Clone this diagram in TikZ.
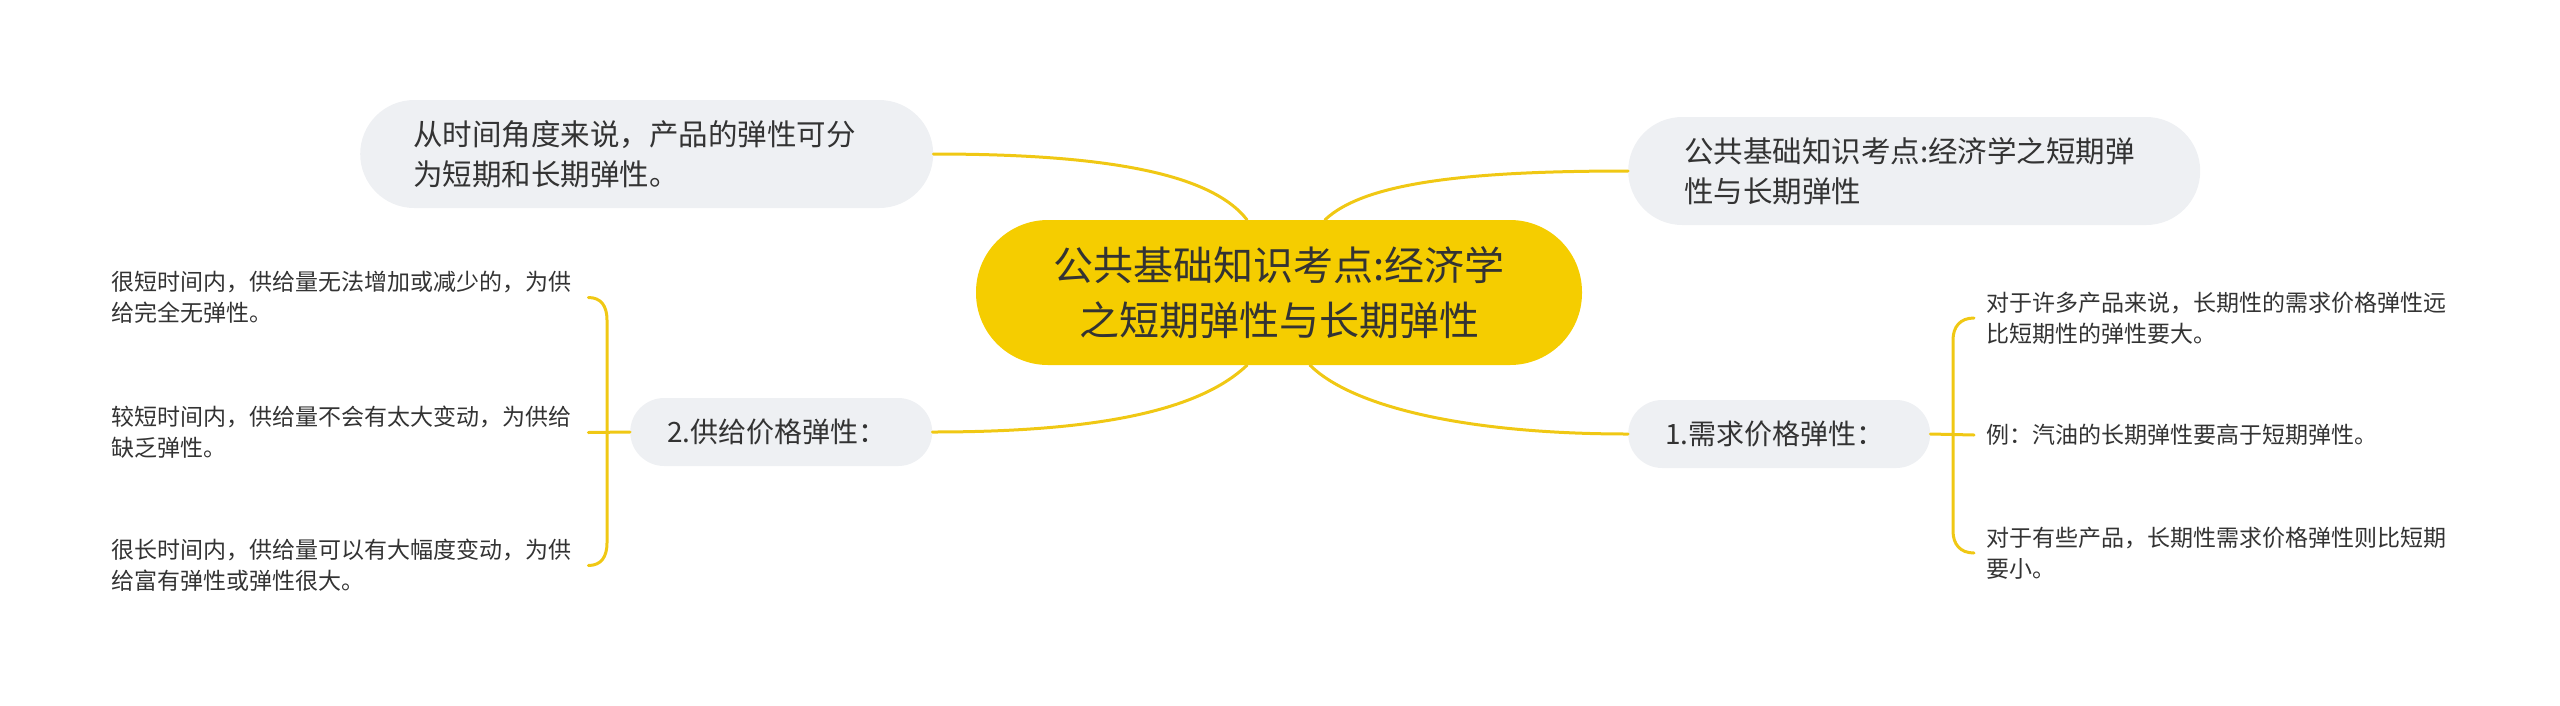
\documentclass[tikz,border=0pt]{standalone}
\usepackage{fontspec}
\setmainfont{Noto Sans CJK SC}
\definecolor{gold}{HTML}{F5CD00}
\definecolor{linegold}{HTML}{F0C814}
\definecolor{pill}{HTML}{EEF0F3}
\definecolor{txt}{HTML}{333333}
\begin{document}
\begin{tikzpicture}[x=1pt,y=-1pt,
  conn/.style={draw=linegold, line width=3pt, line cap=round},
  rootbox/.style={fill=gold, rounded corners=72pt, minimum width=606pt, minimum height=145pt,
    align=center, text=txt, inner sep=0pt, font=\fontsize{40}{55}\selectfont},
  bigpill/.style={fill=pill, rounded corners=54pt, minimum height=108pt, inner ysep=0pt,
    align=left, text=txt, anchor=west, font=\fontsize{29.5}{40}\selectfont},
  midpill/.style={fill=pill, rounded corners=34pt, minimum height=68pt, inner ysep=0pt,
    inner xsep=37pt, text width=228pt, align=left, text=txt, anchor=west,
    font=\fontsize{28}{36}\selectfont},
  leaf/.style={align=left, text=txt, anchor=west, inner ysep=0pt,
    font=\fontsize{23}{31}\selectfont}
]
\useasboundingbox (0,0) rectangle (2560,705);

\node[rootbox] (root) at (1279,292.5) {公共基础知识考点:经济学\\之短期弹性与长期弹性};

\node[bigpill, inner xsep=53pt, text width=467pt] (topL) at (360,154)
  {从时间角度来说，产品的弹性可分\\为短期和长期弹性。};
\node[bigpill, inner xsep=56pt, text width=460pt] (topR) at (1628,171)
  {公共基础知识考点:经济学之短期弹\\性与长期弹性};

\node[midpill] (s2) at (630,432) {2.供给价格弹性：};
\node[midpill] (s1) at (1628,434) {1.需求价格弹性：};

\node[leaf, inner xsep=0pt, text width=477pt] (L1) at (111,297.5)
  {很短时间内，供给量无法增加或减少的，为供\\给完全无弹性。};
\node[leaf, inner xsep=0pt, text width=477pt] (L2) at (111,432.5)
  {较短时间内，供给量不会有太大变动，为供给\\缺乏弹性。};
\node[leaf, inner xsep=0pt, text width=477pt] (L3) at (111,565.5)
  {很长时间内，供给量可以有大幅度变动，为供\\给富有弹性或弹性很大。};

\node[leaf, inner xsep=12pt, text width=470pt] (R1) at (1974,318)
  {对于许多产品来说，长期性的需求价格弹性远\\比短期性的弹性要大。};
\node[leaf, inner xsep=12pt, text width=470pt] (R2) at (1974,435)
  {例：汽油的长期弹性要高于短期弹性。};
\node[leaf, inner xsep=12pt, text width=470pt] (R3) at (1974,553)
  {对于有些产品，长期性需求价格弹性则比短期\\要小。};

% main branches
\draw[conn] (topL.east) .. controls (1100,154) and (1210,172) .. ([xshift=-32pt]root.north);
\draw[conn] ([xshift=46pt]root.north) .. controls (1365,182) and (1470,171) .. (topR.west);
\draw[conn] (s2.east) .. controls (1100,432) and (1200,410) .. ([xshift=-32pt]root.south);
\draw[conn] ([xshift=31pt]root.south) .. controls (1350,405) and (1460,434) .. (s1.west);

% left bracket
\draw[conn] (s2.west) -- (L2.east);
\draw[conn] (L1.east) .. controls (601,297.5) and (607,306) .. (607,320) -- (607,543)
  .. controls (607,557) and (601,565.5) .. (L3.east);

% right bracket
\draw[conn] (s1.east) -- (R2.west);
\draw[conn] (R1.west) .. controls (1960,318) and (1953,327) .. (1953,340) -- (1953,531)
  .. controls (1953,544) and (1960,553) .. (R3.west);
\end{tikzpicture}
\end{document}
